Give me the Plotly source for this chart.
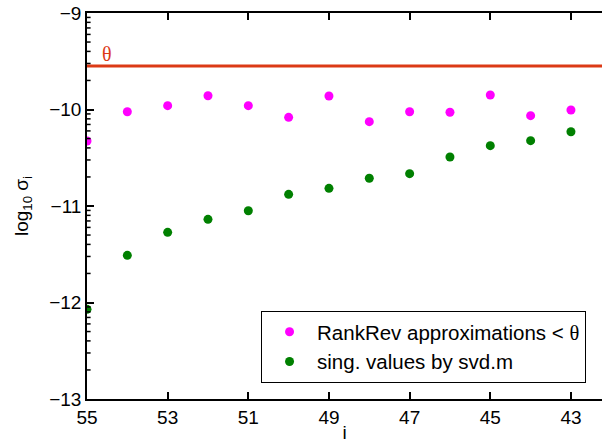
import numpy as np
import plotly.graph_objects as go

idx = [55, 54, 53, 52, 51, 50, 49, 48, 47, 46, 45, 44, 43]
rankrev = [-10.326, -10.023, -9.960, -9.857, -9.960, -10.081, -9.860,
           -10.126, -10.023, -10.029, -9.850, -10.064, -10.005]
svdvals = [-12.071, -11.511, -11.273, -11.138, -11.049, -10.879, -10.817,
           -10.713, -10.665, -10.492, -10.375, -10.323, -10.230]
theta = -9.549
xticks = [55, 53, 51, 49, 47, 45, 43]
yticks = [-13, -12, -11, -10, -9]
yticktext = ["\u221213", "\u221212", "\u221211", "\u221210", "\u22129"]

minor_vals = [float(n + np.log10(k)) for n in range(-13, -9) for k in range(2, 10)]

RED = "#dc3a16"
FONT = "Liberation Sans, Arial, sans-serif"

fig = go.Figure()
fig.add_trace(go.Scatter(
    x=[55, 42.23], y=[theta, theta], mode="lines",
    line=dict(color=RED, width=3), showlegend=False, hoverinfo="skip"))
fig.add_trace(go.Scatter(
    x=idx, y=rankrev, mode="markers",
    marker=dict(color="#ff00ff", size=9),
    name="RankRev approximations < <span style='font-family:Liberation Serif, serif'>\u03b8</span>"))
fig.add_trace(go.Scatter(
    x=idx, y=svdvals, mode="markers",
    marker=dict(color="#008000", size=9),
    name="sing. values by svd.m"))

# minor (log-style) ticks on the left axis
for v in minor_vals:
    fig.add_shape(type="line", xref="paper", yref="y",
                  x0=0, x1=0.007, y0=v, y1=v,
                  line=dict(color="black", width=1.5), layer="above")

fig.add_annotation(x=54.5, y=theta, text="\u03b8", showarrow=False,
                   xanchor="center", yanchor="bottom", yshift=-1,
                   font=dict(family="Liberation Serif, serif", size=20, color=RED))

fig.update_layout(
    width=602, height=443,
    margin=dict(l=87, r=0, t=13, b=44, autoexpand=False),
    paper_bgcolor="white", plot_bgcolor="white",
    font=dict(family=FONT, size=19, color="black"),
    legend=dict(x=0.969, y=0.0415, xanchor="right", yanchor="bottom",
                bordercolor="black", borderwidth=1, bgcolor="white",
                font=dict(size=20.5), itemwidth=45, tracegroupgap=0),
    xaxis=dict(
        range=[55, 42.23], autorange=False, tickmode="array", tickvals=xticks,
        ticks="inside", ticklen=7, tickcolor="black", tickwidth=1.5,
        showline=True, linecolor="black", linewidth=1.5, mirror="allticks",
        showgrid=False, zeroline=False, automargin=False,
        title=dict(text="i", standoff=0, font=dict(size=19))),
    yaxis=dict(
        range=[-13, -9], tickmode="array", tickvals=yticks, ticktext=yticktext,
        ticks="inside", ticklen=7, tickcolor="black", tickwidth=1.5,
        showline=True, linecolor="black", linewidth=1.5, mirror=False,
        showgrid=False, zeroline=False, automargin=False,
        title=dict(text="log<sub>10</sub> \u03c3<sub>i</sub>", standoff=16,
                   font=dict(size=19))),
)

fig.write_html("out.html", config={"displayModeBar": False},
               post_script="document.body.style.margin='0';")
